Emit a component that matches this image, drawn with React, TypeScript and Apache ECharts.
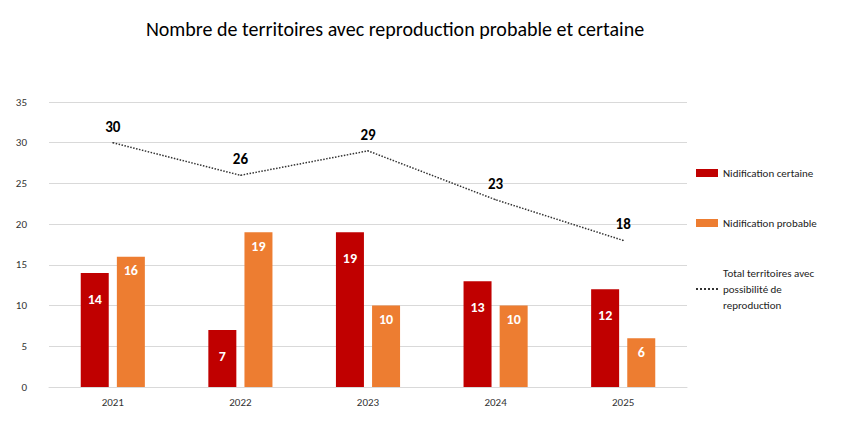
import React, { useEffect, useRef } from "react";
import * as echarts from "echarts";

const years = ["2021", "2022", "2023", "2024", "2025"];
const certaine = [14, 7, 19, 13, 12];
const probable = [16, 19, 10, 10, 6];
const total = [30, 26, 29, 23, 18];

export default function App() {
  const ref = useRef<HTMLDivElement>(null);
  useEffect(() => {
    const chart = echarts.init(ref.current!, null, { renderer: "svg" });
    const font = "Calibri, Carlito, 'Liberation Sans', Arial, sans-serif";
    chart.setOption({
      animation: false,
      textStyle: { fontFamily: font },
      title: {
        text: "Nombre de territoires avec reproduction probable et certaine",
        left: 382, top: 6, textAlign: "center",
        textStyle: { fontSize: 20, fontWeight: "normal", color: "#000", fontFamily: font },
      },
      legend: {
        orient: "vertical", left: 682, top: 152, itemGap: 34,
        itemWidth: 22, itemHeight: 8,
        textStyle: { fontSize: 11, color: "#222", lineHeight: 16 },
        formatter: (n: string) => n.startsWith("Total") ? "Total territoires avec\npossibilité de\nreproduction" : n,
        data: [
          { name: "Nidification certaine", icon: "rect" },
          { name: "Nidification probable", icon: "rect" },
          { name: "Total territoires avec possibilité de reproduction", itemStyle: { opacity: 0 } },
        ],
      },
      grid: { left: 41, right: 169, top: 94, bottom: 46 },
      xAxis: {
        type: "category", data: years,
        axisLine: { lineStyle: { color: "#d9d9d9" } }, axisTick: { show: false },
        axisLabel: { color: "#333", fontSize: 11, margin: 10 },
      },
      yAxis: {
        type: "value", min: 0, max: 35, interval: 5,
        axisLine: { show: false }, axisTick: { show: false },
        splitLine: { lineStyle: { color: "#d9d9d9" } },
        axisLabel: { color: "#333", fontSize: 11, margin: 22 },
      },
      series: [
        {
          name: "Nidification certaine", type: "bar", data: certaine, barWidth: 28, barGap: "29%",
          itemStyle: { color: "#c00000" },
          label: { show: true, position: "insideTop", offset: [0, 14], color: "#fff", fontWeight: "bold", fontSize: 14 },
        },
        {
          name: "Nidification probable", type: "bar", data: probable, barWidth: 28,
          itemStyle: { color: "#ed7d31" },
          label: { show: true, position: "insideTop", offset: [0, 2], color: "#fff", fontWeight: "bold", fontSize: 14 },
        },
        {
          name: "Total territoires avec possibilité de reproduction", type: "line", data: total,
          symbol: "circle", symbolSize: 1, showSymbol: true,
          lineStyle: { color: "#333", type: "dotted", width: 1.5 }, itemStyle: { color: "#333" },
          label: { show: true, position: "top", distance: 8, color: "#000", fontWeight: "bold", fontSize: 15 },
        },
      ],
    });
    return () => chart.dispose();
  }, []);
  return <div ref={ref} style={{ width: 848, height: 425 }} />;
}
